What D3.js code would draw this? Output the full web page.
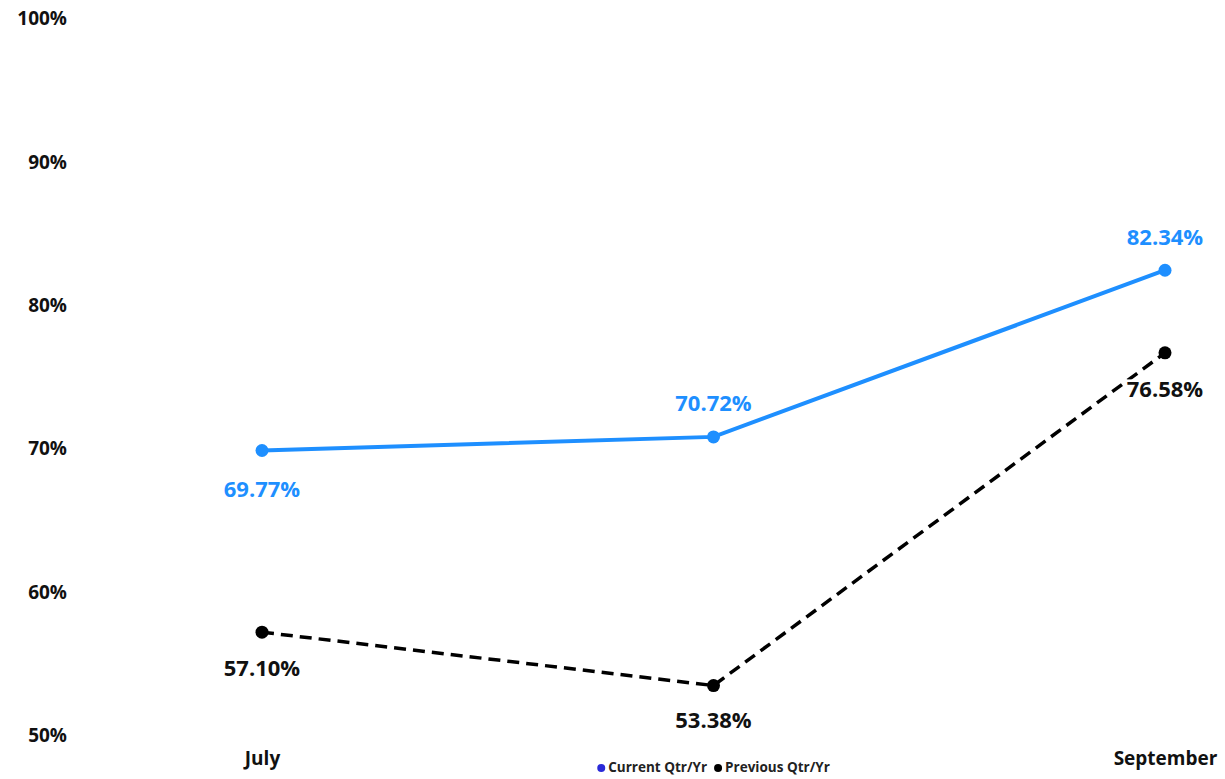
<!DOCTYPE html>
<html>
<head>
<meta charset="utf-8">
<script src="https://cdn.jsdelivr.net/npm/d3@7"></script>
<style>
  html, body { margin: 0; padding: 0; background: #fff; }
  svg { display: block; font-family: "Open Sans", "Noto Sans", sans-serif; }
</style>
</head>
<body>
<svg id="chart" width="1225" height="779"></svg>
<script>
// Monthly rates, current vs previous quarter/year
const months = ["July", "August", "September"];
const shownMonths = ["July", "September"];
const currentQtr = [69.77, 70.72, 82.34];
const previousQtr = [57.10, 53.38, 76.58];
const yTicks = [50, 60, 70, 80, 90, 100];
const seriesNames = ["Current Qtr/Yr", "Previous Qtr/Yr"];

const W = 1225, H = 779;
const svg = d3.select("#chart");

const x = d3.scalePoint().domain(months).range([262, 1165]);
const y = d3.scaleLinear().domain([50, 100]).range([734, 17]);

const blue = "#1E8FFF";
const black = "#000000";

// Y axis: labels only
const yAxis = d3.axisLeft(y).tickValues(yTicks).tickFormat(d => d + "%").tickSize(0).tickPadding(0);
const gy = svg.append("g").attr("transform", "translate(67,0)").call(yAxis);
gy.select(".domain").remove();
gy.selectAll("text")
  .attr("font-size", 19).attr("font-weight", 700).attr("fill", "#111")
  .attr("font-family", "'Open Sans', sans-serif")
  .attr("dy", "0.4em");

// X axis: labels only
const xAxis = d3.axisBottom(x).tickValues(shownMonths).tickSize(0).tickPadding(0);
const gx = svg.append("g").attr("transform", "translate(0,765)").call(xAxis);
gx.select(".domain").remove();
gx.selectAll("text")
  .attr("font-size", 19).attr("font-weight", 700).attr("fill", "#111")
  .attr("font-family", "'Open Sans', sans-serif")
  .attr("dy", "0em");

const line = d3.line().x((d, i) => x(months[i])).y(d => y(d));

// Previous period (dashed black)
svg.append("path")
  .datum(previousQtr)
  .attr("d", line)
  .attr("fill", "none").attr("stroke", black)
  .attr("stroke-width", 3.5).attr("stroke-dasharray", "12,7");

svg.selectAll("circle.prev").data(previousQtr).enter().append("circle")
  .attr("class", "prev")
  .attr("cx", (d, i) => x(months[i]))
  .attr("cy", d => y(d))
  .attr("r", 6.5).attr("fill", black);

// Current period (solid blue)
svg.append("path")
  .datum(currentQtr)
  .attr("d", line)
  .attr("fill", "none").attr("stroke", blue)
  .attr("stroke-width", 4);

svg.selectAll("circle.cur").data(currentQtr).enter().append("circle")
  .attr("class", "cur")
  .attr("cx", (d, i) => x(months[i]))
  .attr("cy", d => y(d))
  .attr("r", 6.5).attr("fill", blue);

// Value labels: offset from each point (px, positive = below)
const currentLabelDy = [41, -32, -31];
const previousLabelDy = [38, 37, 38];

const fmt = d => d.toFixed(2) + "%";

svg.selectAll("text.prevLbl").data(previousQtr).enter().append("text")
  .attr("class", "prevLbl")
  .attr("x", (d, i) => x(months[i]))
  .attr("y", (d, i) => y(d) + previousLabelDy[i])
  .attr("text-anchor", "middle").attr("dominant-baseline", "middle")
  .attr("font-size", 22).attr("font-weight", 700).attr("fill", "#111")
  .attr("stroke", "#fff").attr("stroke-width", 5).attr("paint-order", "stroke")
  .text(fmt);

svg.selectAll("text.curLbl").data(currentQtr).enter().append("text")
  .attr("class", "curLbl")
  .attr("x", (d, i) => x(months[i]))
  .attr("y", (d, i) => y(d) + currentLabelDy[i])
  .attr("text-anchor", "middle").attr("dominant-baseline", "middle")
  .attr("font-size", 22).attr("font-weight", 700).attr("fill", blue)
  .text(fmt);

// Legend, centred under the middle category
const legendColors = ["#2a2ad8", "#000"];
const legend = svg.append("g");
let lx = 0;
seriesNames.forEach((name, i) => {
  const g = legend.append("g").attr("transform", `translate(${lx},0)`);
  g.append("circle").attr("cx", 4).attr("cy", 0).attr("r", 4).attr("fill", legendColors[i]);
  const t = g.append("text").attr("x", 11).attr("y", 0)
    .attr("dominant-baseline", "middle")
    .attr("font-size", 13.5).attr("font-weight", 700).attr("fill", "#222")
    .text(name);
  lx += 11 + t.node().getComputedTextLength() + 7;
});
const legendW = lx - 7;
legend.attr("transform", `translate(${x("August") - legendW / 2},768)`);
</script>
</body>
</html>
